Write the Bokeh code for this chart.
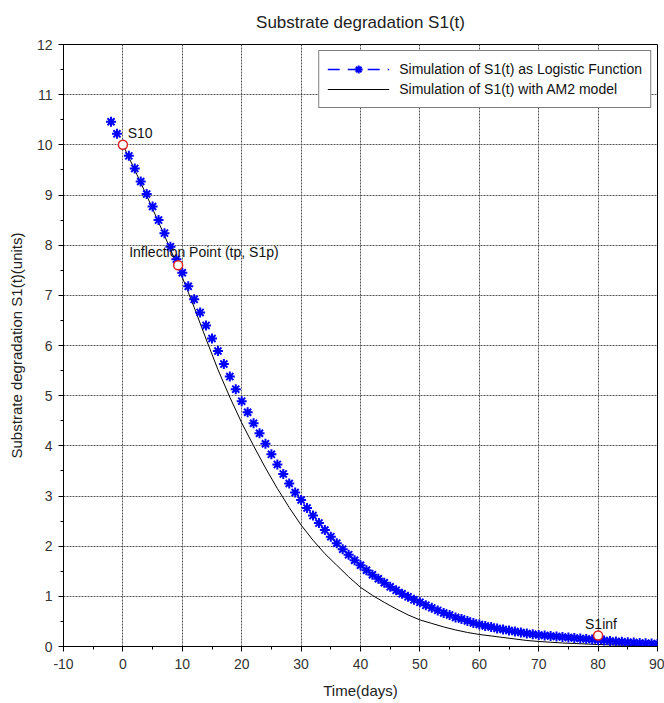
import math
from bokeh.plotting import figure
from bokeh.models import (Range1d, SingleIntervalTicker, Legend, LegendItem, Label)
from bokeh.embed import file_html
from bokeh.resources import INLINE

# ---- data ----
logistic_t = list(range(-2, 91))
logistic_s = [10.46, 10.22, 10.0,
              9.78, 9.53, 9.27, 9.02, 8.77, 8.50, 8.24, 7.97, 7.72, 7.45,
              7.18, 6.92, 6.66, 6.40, 6.14, 5.89, 5.63, 5.38, 5.13, 4.89,
              4.67, 4.45, 4.25, 4.04, 3.83, 3.63, 3.44, 3.25, 3.07, 2.92,
              2.76, 2.61, 2.46, 2.32, 2.19, 2.06, 1.94, 1.83, 1.72, 1.62,
              1.52, 1.43, 1.35, 1.27, 1.19, 1.12, 1.05, 0.99, 0.93, 0.88,
              0.82, 0.77, 0.72, 0.67, 0.63, 0.58, 0.55, 0.51, 0.47, 0.44,
              0.41, 0.39, 0.36, 0.34, 0.32, 0.30, 0.28, 0.26, 0.245, 0.23,
              0.22, 0.21, 0.20, 0.19, 0.18, 0.17, 0.16, 0.15, 0.14, 0.13,
              0.12, 0.11, 0.10, 0.095, 0.085, 0.08, 0.07, 0.065, 0.06, 0.05]

am2_t = list(range(0, 91, 2))
am2_s = [10.0, 9.50, 8.99, 8.46, 7.92, 7.36, 6.76, 6.13, 5.52, 4.97,
         4.46, 4.00, 3.56, 3.15, 2.77, 2.42, 2.12, 1.85, 1.62, 1.39,
         1.18, 1.02, 0.88, 0.75, 0.63, 0.53, 0.46, 0.39, 0.33, 0.28,
         0.24, 0.21, 0.18, 0.15, 0.12, 0.10, 0.085, 0.07, 0.06, 0.05,
         0.04, 0.033, 0.027, 0.02, 0.015, 0.01]

key_names = ["S10", "Inflection Point (tp, S1p)", "S1inf"]
key_t = [0.0, 9.3, 80.0]
key_s = [10.0, 7.6, 0.22]

x_range = (-10, 90)
y_range = (0, 12)

FONT = "Liberation Sans"

p = figure(width=664, height=703, output_backend="svg", toolbar_location=None,
           x_range=Range1d(*x_range), y_range=Range1d(*y_range),
           min_border_left=63, min_border_right=7, min_border_top=44,
           min_border_bottom=57)
p.background_fill_color = "white"
p.border_fill_color = "white"
p.outline_line_color = "black"
p.outline_line_width = 1

p.title.text = "Substrate degradation S1(t)"
p.title.align = "center"
p.title.vertical_align = "top"
p.title.text_font = FONT
p.title.text_font_size = "17px"
p.title.text_font_style = "normal"
p.title.text_color = "#222222"
p.title.standoff = 22

# axes
p.xaxis.ticker = SingleIntervalTicker(interval=10, num_minor_ticks=2)
p.yaxis.ticker = SingleIntervalTicker(interval=1, num_minor_ticks=2)
p.xaxis.major_label_overrides = {-10: "-10"}
for ax in (p.xaxis[0], p.yaxis[0]):
    ax.axis_line_color = "black"
    ax.major_tick_line_color = "black"
    ax.minor_tick_line_color = "black"
    ax.major_tick_in = 0
    ax.minor_tick_in = 0
    ax.major_tick_out = 5
    ax.minor_tick_out = 3
    ax.major_label_text_font = FONT
    ax.major_label_text_font_size = "14px"
    ax.major_label_text_color = "#333333"
    ax.axis_label_text_font = FONT
    ax.axis_label_text_font_size = "15px"
    ax.axis_label_text_font_style = "normal"
    ax.axis_label_text_color = "#222222"
p.xaxis.axis_label = "Time(days)"
p.yaxis.axis_label = "Substrate degradation S1(t)(units)"
p.xaxis.major_label_standoff = 7
p.xaxis.axis_label_standoff = 10
p.yaxis.major_label_standoff = 6
p.yaxis.axis_label_standoff = 9

# grid
for g in (p.xgrid[0], p.ygrid[0]):
    g.grid_line_color = "#555555"
    g.grid_line_dash = "2 1"
    g.grid_line_width = 1

# series
nan = float("nan")
dash_proxy = p.line(x=[nan, nan], y=[nan, nan], line_color="#0000ff",
                    line_dash="12 8", line_width=1.5)
black = p.line(am2_t, am2_s, line_color="black", line_width=1)
stars = p.scatter(logistic_t, logistic_s, marker="asterisk", size=10,
                  line_color="#0000ff", line_width=2)
p.scatter(key_t, key_s, marker="circle", size=9, line_color="#dd2222",
          line_width=1.5, fill_color="white")

# point labels
lab_pos = [(0.8, 10.24), (1.06, 7.86), (77.8, 0.45)]
for name, (lx, ly) in zip(key_names, lab_pos):
    p.add_layout(Label(x=lx, y=ly, text=name, text_font=FONT,
                       text_font_size="14px", text_color="#111111",
                       text_baseline="alphabetic"))

legend = Legend(items=[
    LegendItem(label="Simulation of S1(t) as Logistic Function",
               renderers=[dash_proxy, stars]),
    LegendItem(label="Simulation of S1(t) with AM2 model", renderers=[black]),
], location="top_right")
legend.border_line_color = "black"
legend.border_line_width = 1
legend.background_fill_color = "white"
legend.background_fill_alpha = 1
legend.label_text_font = FONT
legend.label_text_font_size = "14px"
legend.label_text_color = "#111111"
legend.glyph_width = 62
legend.glyph_height = 20
legend.label_height = 20
legend.label_standoff = 10
legend.padding = 8
legend.spacing = 0
legend.margin = 6
p.add_layout(legend)

open("out.html", "w").write(file_html(p, INLINE))
